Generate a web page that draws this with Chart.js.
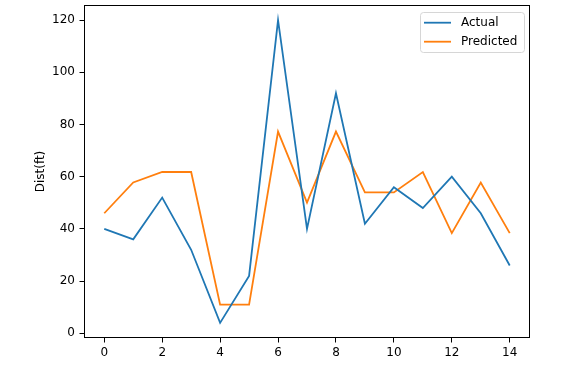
<!DOCTYPE html>
<html>
<head>
<meta charset="utf-8">
<script src="https://cdn.jsdelivr.net/npm/chart.js@4"></script>
<style>
  html, body { margin: 0; padding: 0; background: #fff; }
  #chart { display: block; }
</style>
</head>
<body>
<canvas id="chart" width="566" height="366"></canvas>
<script>
// sample index
const xValues = [0, 1, 2, 3, 4, 5, 6, 7, 8, 9, 10, 11, 12, 13, 14];
const actual = [40, 36, 52, 32, 4, 22, 120, 40, 92, 42, 56, 48, 60, 46, 26];
const predicted = [46, 57.8, 61.8, 61.8, 11, 11, 77.3, 50.1, 77.3, 54, 54, 61.8, 38.4, 57.8, 38.4];

const xTicks = [0, 2, 4, 6, 8, 10, 12, 14];
const yTicks = [0, 20, 40, 60, 80, 100, 120];

const FONT = "'DejaVu Sans', sans-serif";

// matplotlib style box around the axes + legend in the upper right
const mplFrame = {
    id: "mplFrame",
    afterDatasetsDraw(chart) {
        const ctx = chart.ctx;
        const a = chart.chartArea;
        ctx.save();
        ctx.strokeStyle = "#000";
        ctx.lineWidth = 1;
        ctx.strokeRect(Math.round(a.left) + 0.5, Math.round(a.top) + 0.5,
            Math.round(a.right - a.left) - 1, Math.round(a.bottom - a.top) - 1);

        // legend
        const right = a.right - 6, top = a.top + 7;
        const w = 104, h = 40;
        const left = right - w;
        ctx.beginPath();
        ctx.roundRect(left + 0.5, top + 0.5, w, h, 3);
        ctx.fillStyle = "rgba(255,255,255,0.8)";
        ctx.fill();
        ctx.strokeStyle = "#d6d6d6";
        ctx.stroke();
        ctx.font = "12px " + FONT;
        ctx.textBaseline = "middle";
        chart.data.datasets.forEach((ds, i) => {
            const y = top + 10.7 + i * 19;
            ctx.beginPath();
            ctx.moveTo(left + 4, y);
            ctx.lineTo(left + 31, y);
            ctx.strokeStyle = ds.borderColor;
            ctx.lineWidth = 1.8;
            ctx.stroke();
            ctx.fillStyle = "#000";
            ctx.fillText(ds.label, left + 41, y);
        });
        ctx.restore();
    }
};

new Chart("chart", {
    type: "line",
    data: {
        datasets: [{
            label: "Actual",
            data: xValues.map((x, i) => ({ x: x, y: actual[i] })),
            borderColor: "#1f77b4",
            borderWidth: 1.8,
            pointRadius: 0,
            tension: 0,
            fill: false
        }, {
            label: "Predicted",
            data: xValues.map((x, i) => ({ x: x, y: predicted[i] })),
            borderColor: "#ff7f0e",
            borderWidth: 1.8,
            pointRadius: 0,
            tension: 0,
            fill: false
        }]
    },
    options: {
        responsive: false,
        animation: false,
        devicePixelRatio: 1,
        layout: { padding: { left: 0, right: 36, top: 5, bottom: 0 } },
        plugins: {
            legend: { display: false },
            tooltip: { enabled: false }
        },
        scales: {
            x: {
                type: "linear",
                min: -0.7,
                max: 14.7,
                afterBuildTicks: (scale) => { scale.ticks = xTicks.map(v => ({ value: v })); },
                afterFit: (scale) => {
                    scale.height = 28;
                    scale.paddingLeft = 0;
                    scale.paddingRight = 0;
                },
                grid: { drawOnChartArea: false, drawTicks: true, tickLength: 4.5, color: "#000" },
                border: { display: false },
                ticks: { color: "#000", font: { family: FONT, size: 12 }, padding: 3, maxRotation: 0 }
            },
            y: {
                min: -1.8,
                max: 125.8,
                afterBuildTicks: (scale) => { scale.ticks = yTicks.map(v => ({ value: v })); },
                afterFit: (scale) => {
                    scale.width = 84;
                    scale.paddingTop = 0;
                    scale.paddingBottom = 0;
                },
                grid: { drawOnChartArea: false, drawTicks: true, tickLength: 4.5, color: "#000" },
                border: { display: false },
                ticks: { color: "#000", font: { family: FONT, size: 12 }, padding: 4.5 },
                title: {
                    display: true,
                    text: "Dist(ft)",
                    color: "#000",
                    font: { family: FONT, size: 12 },
                    padding: { top: 34, bottom: 0 }
                }
            }
        }
    },
    plugins: [mplFrame]
});
</script>
</body>
</html>
